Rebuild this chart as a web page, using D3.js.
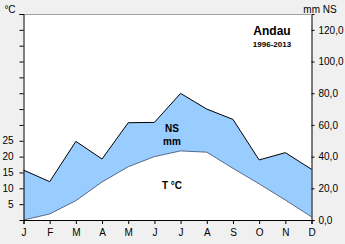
<!DOCTYPE html>
<html>
<head>
<meta charset="utf-8">
<script src="https://cdn.jsdelivr.net/npm/d3@7"></script>
<style>
  html, body { margin: 0; padding: 0; background: #f0f0f0; }
  svg { display: block; font-family: "Liberation Sans", Arial, sans-serif; }
</style>
</head>
<body>
<div id="chart"></div>
<script>
const months = ["J", "F", "M", "A", "M", "J", "J", "A", "S", "O", "N", "D"];
const temperature = [0.0, 1.9, 6.1, 12.0, 16.8, 20.0, 21.8, 21.4, 16.3, 11.4, 6.3, 1.0];
const precipitation = [31.5, 24.2, 49.6, 38.5, 61.4, 61.6, 79.9, 70.0, 63.5, 37.9, 42.5, 32.0];
const tempTicks = [5, 10, 15, 20, 25, 30, 35, 40, 45, 50, 55, 60, 65];
const tempLabels = [5, 10, 15, 20, 25];
const rainTicks = [0, 20, 40, 60, 80, 100, 120];

const width = 345;
const height = 244;
const margin = { top: 14, right: 33.5, bottom: 24, left: 23.5 };

const svg = d3
  .select("#chart")
  .append("svg")
  .attr("width", width)
  .attr("height", height);

const x = d3
  .scalePoint()
  .domain(d3.range(months.length))
  .range([margin.left, width - margin.right]);

const yT = d3
  .scaleLinear()
  .domain([0, 65])
  .range([height - margin.bottom, margin.top]);

const yP = d3
  .scaleLinear()
  .domain([0, 130])
  .range([height - margin.bottom, margin.top]);

// plot background
svg
  .append("rect")
  .attr("x", margin.left)
  .attr("y", margin.top)
  .attr("width", width - margin.left - margin.right)
  .attr("height", height - margin.top - margin.bottom)
  .attr("fill", "#fff");

svg
  .append("line")
  .attr("x1", margin.left)
  .attr("x2", width - margin.right)
  .attr("y1", margin.top + 0.5)
  .attr("y2", margin.top + 0.5)
  .attr("stroke", "#a0a0a0");

// humid area: between rain line and temperature line
const area = d3
  .area()
  .x((d, i) => x(i))
  .y0((d, i) => yT(temperature[i]))
  .y1((d) => yP(d));

svg
  .append("path")
  .datum(precipitation)
  .attr("d", area)
  .attr("fill", "#99ccff");

svg
  .append("path")
  .datum(temperature)
  .attr("d", d3.line().x((d, i) => x(i)).y((d) => yT(d)))
  .attr("fill", "none")
  .attr("stroke", "#3a4a6a")
  .attr("stroke-width", 0.8);

svg
  .append("path")
  .datum(precipitation)
  .attr("d", d3.line().x((d, i) => x(i)).y((d) => yP(d)))
  .attr("fill", "none")
  .attr("stroke", "#000")
  .attr("stroke-width", 1);

// axes
const fmtRain = (d) => d3.format(".1f")(d).replace(".", ",");

const leftAxis = svg
  .append("g")
  .attr("transform", `translate(${margin.left},0)`)
  .call(
    d3
      .axisLeft(yT)
      .tickValues(tempTicks)
      .tickSize(4)
      .tickPadding(6)
      .tickFormat((d) => (tempLabels.includes(d) ? d : ""))
  );

const rightAxis = svg
  .append("g")
  .attr("transform", `translate(${width - margin.right},0)`)
  .call(
    d3
      .axisRight(yP)
      .tickValues(rainTicks)
      .tickSize(3)
      .tickPadding(4)
      .tickFormat(fmtRain)
  );

const bottomAxis = svg
  .append("g")
  .attr("transform", `translate(0,${height - margin.bottom})`)
  .call(
    d3
      .axisBottom(x)
      .tickSize(4)
      .tickPadding(5)
      .tickFormat((i) => months[i])
  );

[leftAxis, rightAxis, bottomAxis].forEach((g) => {
  g.select(".domain").attr("stroke", "#000");
  g.selectAll("text").attr("font-size", 10).attr("fill", "#000");
});

// labels
svg
  .append("text")
  .attr("x", 10)
  .attr("y", 13)
  .attr("text-anchor", "middle")
  .attr("font-size", 10)
  .text("°C");

svg
  .append("text")
  .attr("x", 320)
  .attr("y", 13)
  .attr("text-anchor", "middle")
  .attr("font-size", 10)
  .text("mm NS");

svg
  .append("text")
  .attr("x", 272)
  .attr("y", 35)
  .attr("text-anchor", "middle")
  .attr("font-size", 12)
  .attr("font-weight", "bold")
  .text("Andau");

svg
  .append("text")
  .attr("x", 272)
  .attr("y", 47)
  .attr("text-anchor", "middle")
  .attr("font-size", 8)
  .attr("font-weight", "bold")
  .text("1996-2013");

svg
  .append("text")
  .attr("x", 172)
  .attr("y", 132)
  .attr("text-anchor", "middle")
  .attr("font-size", 10)
  .attr("font-weight", "bold")
  .text("NS");

svg
  .append("text")
  .attr("x", 172)
  .attr("y", 145)
  .attr("text-anchor", "middle")
  .attr("font-size", 10)
  .attr("font-weight", "bold")
  .text("mm");

svg
  .append("text")
  .attr("x", 172)
  .attr("y", 189)
  .attr("text-anchor", "middle")
  .attr("font-size", 10)
  .attr("font-weight", "bold")
  .text("T °C");
</script>
</body>
</html>
